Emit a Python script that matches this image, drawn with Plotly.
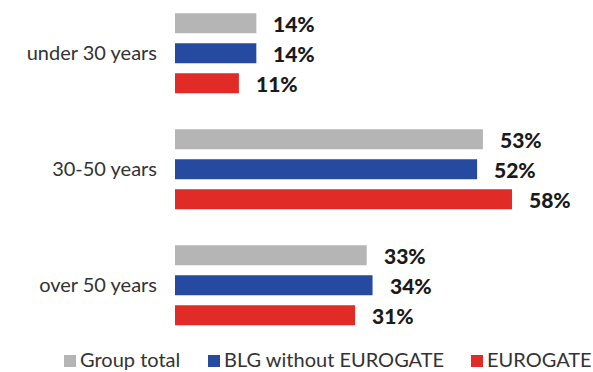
import plotly.graph_objects as go

# Age structure of employees, share per age group (%)
categories = ["under 30 years", "30-50 years", "over 50 years"]
series_names = ["Group total", "BLG without EUROGATE", "EUROGATE"]
group_total = [14, 53, 33]
blg_without_eurogate = [14, 52, 34]
eurogate = [11, 58, 31]
series_values = [group_total, blg_without_eurogate, eurogate]
colors = ["#b4b5b4", "#254aa0", "#e02b26"]

W, H = 593, 372
M_L, M_R, M_T, M_B = 175, 20, 10, 37
px_per_pct = 5.81
plot_w = W - M_L - M_R
plot_h = H - M_T - M_B

label_shift = [-30, 0, 30]         # vertical offset of each bar inside a group
legend_px = [64, 208, 471]         # left edge of each legend swatch (px)


def paper_x(px):
    return (px - M_L) / plot_w


def paper_y(py):
    return (H - M_B - py) / plot_h


fig = go.Figure()
for i, (name, vals, col) in enumerate(zip(series_names, series_values, colors)):
    fig.add_trace(go.Bar(
        y=categories, x=vals, name=name, orientation="h",
        marker=dict(color=col, line=dict(width=0)),
        hoverinfo="skip", showlegend=False,
    ))
    for cat, v in zip(categories, vals):
        fig.add_annotation(
            x=v, y=cat, text=f"{v}%", showarrow=False,
            xanchor="left", yanchor="middle", xshift=15, yshift=-label_shift[i],
            font=dict(family="Lato", size=21, color="#1a1a1a", weight=900),
        )

    # legend entry: colour swatch followed by the series name
    x0 = legend_px[i]
    fig.add_shape(
        type="rect", xref="paper", yref="paper",
        x0=paper_x(x0), x1=paper_x(x0 + 12),
        y0=paper_y(367), y1=paper_y(355),
        fillcolor=col, line=dict(width=0),
    )
    fig.add_annotation(
        xref="paper", yref="paper", x=paper_x(x0 + 15), y=paper_y(372),
        text=name, showarrow=False, xanchor="left", yanchor="bottom",
        borderpad=0,
        font=dict(family="Lato", size=20, color="#333333"),
    )

fig.update_layout(
    width=W, height=H,
    margin=dict(l=M_L, r=M_R, t=M_T, b=M_B, autoexpand=False),
    barmode="group",
    bargap=0.224,
    bargroupgap=0.333,
    plot_bgcolor="white", paper_bgcolor="white",
    font=dict(family="Lato", size=20, color="#333333"),
    xaxis=dict(range=[0, plot_w / px_per_pct], visible=False),
    yaxis=dict(
        range=[2.429, -0.373], showgrid=False, zeroline=False, showline=False,
        ticks="outside", ticklen=13, tickcolor="rgba(0,0,0,0)",
        tickfont=dict(family="Lato", size=20, color="#333333"),
    ),
    showlegend=False,
)

fig.write_html("out.html")
